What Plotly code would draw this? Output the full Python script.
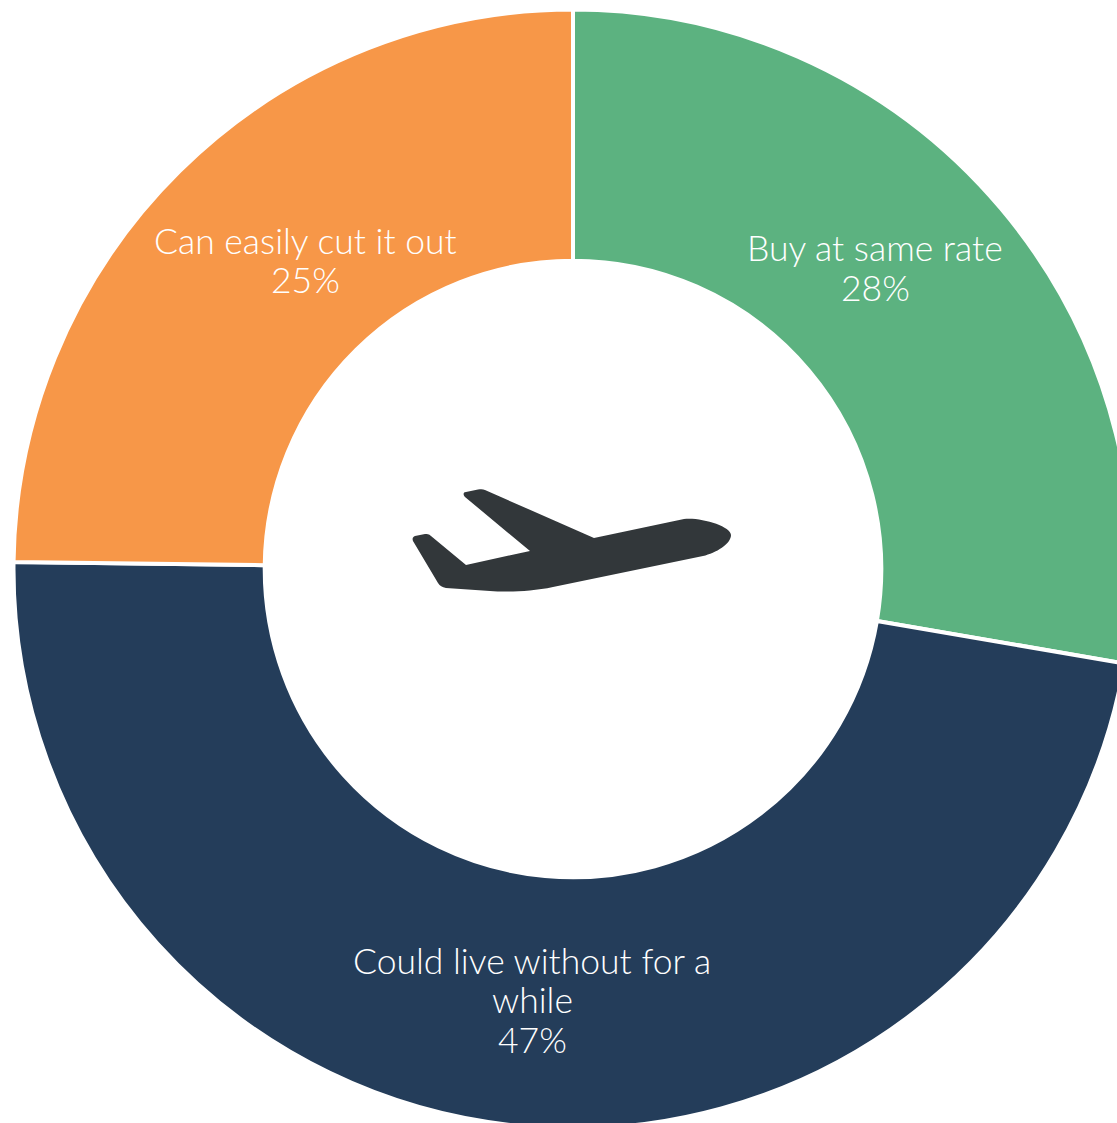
import plotly.graph_objects as go

labels = ["Buy at same rate", "Could live without for a", "Can easily cut it out"]
extra_lines = [[], ["while"], []]
percent_labels = ["28%", "47%", "25%"]
values = [27.7, 47.5, 24.8]
colors = ["#5CB280", "#243D5A", "#F79748"]

W, H = 1146, 1146
cx, cy, R = 573, 569, 559.5

label_x = [875, 532, 305]
label_y = [248, 960, 240]
LINE = 39.5

def px(x): return f"{x / W:.5f}"
def py(y): return f"{1 - y / H:.5f}"
def P(x, y): return f"{px(x)},{py(y)}"

plane = (
    "M" + P(485, 490) + " L" + P(594, 538) + " L" + P(684, 519)
    + " C" + P(700, 517) + " " + P(731, 526) + " " + P(731, 535)
    + " C" + P(731, 544) + " " + P(716, 553) + " " + P(703, 556)
    + " L" + P(553, 587)
    + " C" + P(530, 592) + " " + P(505, 592) + " " + P(490, 591)
    + " L" + P(446, 588)
    + " C" + P(442, 587) + " " + P(440, 586) + " " + P(438, 583)
    + " L" + P(413, 541)
    + " C" + P(412, 538) + " " + P(413, 537) + " " + P(415, 536)
    + " L" + P(425, 534)
    + " C" + P(427, 534) + " " + P(429, 534) + " " + P(431, 536)
    + " L" + P(466, 565) + " L" + P(530, 551) + " L" + P(465, 497)
    + " C" + P(463, 495) + " " + P(463, 492) + " " + P(466, 492)
    + " L" + P(478, 489.5)
    + " C" + P(481, 489) + " " + P(483, 489) + " " + P(485, 490) + " Z"
)

annotations = []
for lab, more, pct, x0, y0 in zip(labels, extra_lines, percent_labels, label_x, label_y):
    for i, line in enumerate([lab] + more + [pct]):
        annotations.append(dict(
            text=line, xref="paper", yref="paper",
            x=x0 / W, y=1 - (y0 + i * LINE) / H,
            xanchor="center", yanchor="middle", showarrow=False,
            font=dict(family="Lato", size=35.5, color="#FFFFFF", weight=300),
        ))

fig = go.Figure(go.Pie(
    labels=labels,
    values=values,
    sort=False,
    direction="clockwise",
    rotation=0,
    hole=0.551,
    marker=dict(colors=colors, line=dict(color="#FFFFFF", width=4)),
    textinfo="none",
    domain=dict(x=[(cx - R) / W, (cx + R) / W], y=[1 - (cy + R) / H, 1 - (cy - R) / H]),
    showlegend=False,
))
fig.update_layout(
    width=W, height=H,
    margin=dict(l=0, r=0, t=0, b=0),
    paper_bgcolor="#FFFFFF",
    showlegend=False,
    annotations=annotations,
    shapes=[dict(type="path", xref="paper", yref="paper", path=plane,
                 fillcolor="#32373A", line=dict(width=0), layer="above")],
)
fig.write_html("out.html", config={"displayModeBar": False},
               post_script="document.body.style.margin='0';document.body.style.overflow='hidden';document.documentElement.style.overflow='hidden';")
